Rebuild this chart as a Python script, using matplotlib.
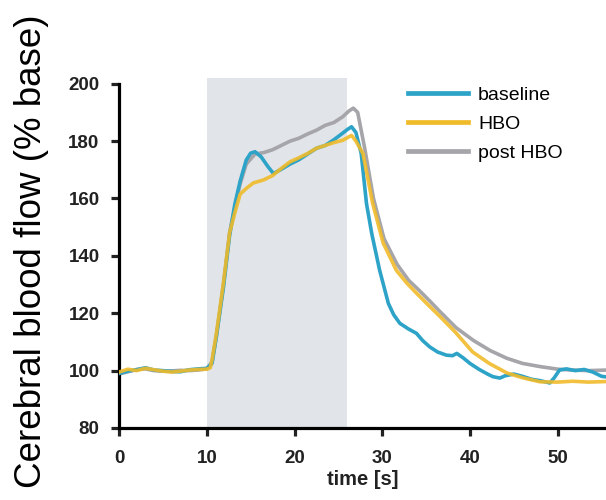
import matplotlib
matplotlib.use("Agg")
import matplotlib.pyplot as plt

# cerebral blood flow traces (% of baseline)
t_base = [0, 1, 2, 3, 4, 5, 6, 7, 8, 9, 10, 10.6, 11.1, 11.9, 12.6, 13.2, 13.8,
          14.5, 15.0, 15.5, 16.2, 17.0, 17.6, 18.5, 19.5, 20.5, 21.5, 22.5, 23.5,
          24.5, 25.5, 26.0, 26.5, 27.0, 27.6, 28.2, 28.8, 29.7, 30.7, 31.3, 32.0,
          33.0, 33.9, 34.6, 35.4, 36.3, 37.3, 38.0, 38.5, 39.2, 40.0, 41.0, 42.0,
          42.6, 43.4, 44.0, 45.0, 46.0, 47.0, 48.0, 49.1, 49.6, 50.2, 51.0, 52.0,
          53.0, 54.0, 55.0, 55.6]
cbf_base = [99.0, 99.8, 100.3, 101.0, 100.2, 100.0, 99.7, 99.6, 100.3, 100.6,
            100.8, 102.5, 112, 129, 147, 158, 166, 173.4, 175.8, 176.3, 174.5,
            171, 168.7, 170.2, 172.0, 173.5, 175.5, 177.5, 178.5, 180.5, 182.8,
            184.0, 185.0, 183, 175.7, 158.3, 147.8, 135, 123.4, 119.5, 116.5,
            114.5, 113, 110.5, 108.3, 106.5, 105.4, 105.2, 106, 104.5, 102.5,
            100.5, 98.8, 97.9, 97.4, 98.2, 98.8, 98.0, 97.0, 96.5, 95.7, 97.5,
            100.2, 100.6, 100.0, 100.4, 99.5, 98.0, 97.8]

t_hbo = [0, 1, 2, 3, 4, 5, 6, 7, 8, 9, 10, 10.4, 10.6, 11.1, 11.9, 12.6, 13.2,
         13.8, 14.5, 15.3, 16.5, 17.5, 18.5, 19.5, 20.5, 21.5, 22.5, 23.5, 24.5,
         25.5, 26.5, 27.0, 27.8, 28.9, 30.1, 31.6, 32.8, 33.9, 35.2, 36.6, 38.3,
         40.3, 42.2, 44.2, 46.0, 48.0, 50.0, 51.7, 53.5, 55.6]
cbf_hbo = [99.5, 100.5, 100.0, 100.8, 100.3, 99.8, 99.5, 99.8, 100.2, 100.4,
           100.5, 101, 103.7, 113, 130.5, 148, 155, 161.5, 163.5, 165.4, 166.5,
           168, 170.5, 172.8, 174.2, 175.7, 177.5, 178.5, 179.5, 180.3, 182.0,
           180, 175.7, 158.4, 144.5, 135, 130.5, 127, 123, 118.8, 113.5, 106.5,
           102.5, 99.2, 97.5, 96.1, 96.0, 96.3, 96.0, 96.2]

t_post = [0, 1, 2, 3, 4, 5, 6, 7, 8, 9, 10, 10.6, 11.1, 11.9, 12.6, 13.2, 13.8,
          14.5, 15.5, 16.5, 17.5, 18.5, 19.5, 20.5, 21.5, 22.5, 23.5, 24.5, 25.5,
          26.2, 26.7, 27.2, 28.0, 29.0, 30.2, 31.7, 33.0, 34.2, 35.5, 36.6, 38.4,
          40.4, 42.3, 44.2, 46.0, 48.0, 50.0, 51.7, 53.5, 55.6]
cbf_post = [98.8, 99.6, 100.4, 100.6, 100.0, 99.8, 99.9, 100.1, 100.0, 100.2,
            100.6, 103, 112, 130, 148, 157, 165, 172, 175.5, 176, 177, 178.5,
            180, 181, 182.5, 183.8, 185.5, 186.5, 188.5, 190.5, 191.5, 190,
            177.5, 160, 146, 137, 131.5, 128, 124, 120.5, 115, 110.5, 107, 104.3,
            102.5, 101.4, 100.5, 100.2, 100.0, 100.2]

stim = (10, 26)
xticks = [0, 10, 20, 30, 40, 50]
yticks = [80, 100, 120, 140, 160, 180, 200]

fig = plt.figure(figsize=(6.06, 5.0), dpi=100)
ax = fig.add_axes([0.1964, 0.144, 0.8036, 0.7])

ax.axvspan(stim[0], stim[1], color="#e1e4e8", lw=0, zorder=0)
ax.plot(t_post, cbf_post, color="#a5a5aa", lw=2.6, label="post HBO", zorder=2)
ax.plot(t_base, cbf_base, color="#2ea3c8", lw=2.6, label="baseline", zorder=3)
ax.plot(t_hbo, cbf_hbo, color="#f0bb2a", lw=2.6, alpha=0.9, label="HBO", zorder=4)

ax.set_xlim(0, 55.5)
ax.set_ylim(80, 202)
ax.set_xticks(xticks)
ax.set_yticks(yticks)
ax.spines["top"].set_visible(False)
ax.spines["right"].set_visible(False)
ax.spines["left"].set_bounds(80, 200)
for s in ("left", "bottom"):
    ax.spines[s].set_linewidth(2.3)
ax.tick_params(width=2.3, length=6, direction="out", colors="#222222")
ax.tick_params(axis="y", pad=8)
ax.tick_params(axis="x", pad=10)
for lab in ax.get_xticklabels() + ax.get_yticklabels():
    lab.set_fontfamily("Liberation Sans")
    lab.set_fontweight("bold")
    lab.set_fontsize(13.5)

ax.set_xlabel("time [s]", fontfamily="Liberation Sans", fontweight="bold",
              fontsize=14.5, color="#222222", labelpad=2)

fig.text(0.052, 0.497, "Cerebral blood flow (% base)", rotation=90,
         ha="center", va="center", fontfamily="Liberation Sans", fontsize=26.5)

handles, labels = ax.get_legend_handles_labels()
order = [1, 2, 0]
leg = ax.legend([handles[i] for i in order], [labels[i] for i in order],
                loc="upper left", bbox_to_anchor=(408 / 606, 1 - 86 / 500),
                bbox_transform=fig.transFigure, frameon=False, borderpad=0,
                borderaxespad=0, handlelength=3.1, handletextpad=0.5,
                labelspacing=0.6, prop={"family": "Liberation Sans", "size": 14})
for line in leg.get_lines():
    line.set_linewidth(3.4)
    line.set_alpha(1)

fig.savefig("out.png", dpi=100)
